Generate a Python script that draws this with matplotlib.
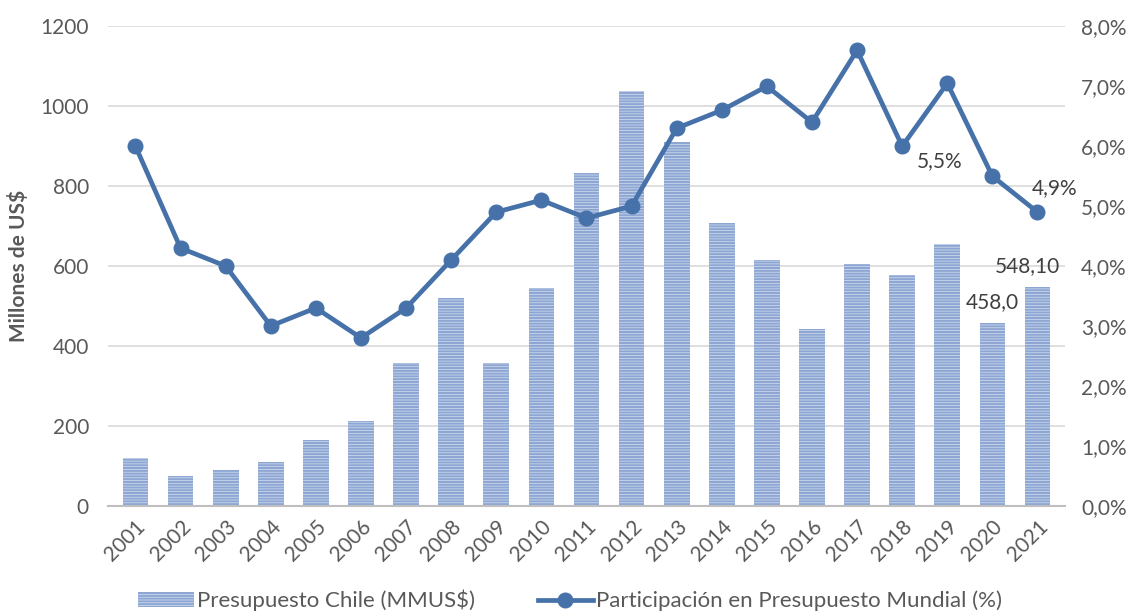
import numpy as np
import matplotlib
matplotlib.use("Agg")
from matplotlib import pyplot as plt
from matplotlib.ticker import FuncFormatter
from matplotlib.patches import Patch
from matplotlib.lines import Line2D

# Data
years = [str(y) for y in range(2001, 2022)]
presupuesto = [120, 75, 90, 110, 165, 213, 358, 521, 358, 546, 832, 1037,
               910, 708, 616, 443, 604, 577, 655, 458.0, 548.1]
participacion = [6.0, 4.3, 4.0, 3.0, 3.3, 2.8, 3.3, 4.1, 4.9, 5.1, 4.8, 5.0,
                 6.3, 6.6, 7.0, 6.4, 7.6, 6.0, 7.05, 5.5, 4.9]

plt.rcParams['font.family'] = ['Lato', 'DejaVu Sans']
plt.rcParams['hatch.linewidth'] = 1.5

gray = '#595959'
blue = '#4672a9'
bar_face = '#d6e0f0'
bar_hatch = '#8ea6d3'

fig = plt.figure(figsize=(11.41, 6.13), dpi=100)
ax = fig.add_axes([0.095, 0.175, 0.838, 0.782])
ax2 = ax.twinx()

x = np.arange(len(years))
ax.bar(x, presupuesto, width=0.57, facecolor=bar_face, hatch='------',
       edgecolor=bar_hatch, linewidth=0, zorder=2)
ax2.plot(x, participacion, color=blue, lw=3.4, marker='o', markersize=10.5,
         zorder=3)

ax.set_ylim(0, 1200)
ax.set_yticks(range(0, 1201, 200))
ax2.set_ylim(0, 8)
ax2.set_yticks(range(0, 9))
ax2.yaxis.set_major_formatter(FuncFormatter(lambda v, p: f"{v:.1f}%".replace('.', ',')))
ax.set_xlim(-0.6, len(years) - 0.4)

ax.grid(axis='y', color='#d9d9d9', lw=1.2, zorder=0)
ax.set_axisbelow(True)
for a in (ax, ax2):
    for s in a.spines.values():
        s.set_visible(False)
ax.spines['bottom'].set_visible(True)
ax.spines['bottom'].set_color('#bfbfbf')
ax.spines['bottom'].set_linewidth(1.5)

ax.set_xticks(x)
ax.set_xticklabels(years, rotation=45, ha='right', rotation_mode='anchor')
ax.tick_params(axis='x', length=0, labelsize=15, labelcolor=gray, pad=8)
ax.tick_params(axis='y', length=0, labelsize=15, labelcolor=gray, pad=14)
ax2.tick_params(axis='y', length=0, labelsize=15, labelcolor=gray, pad=12)
ax.set_ylabel('Millones de US$', fontsize=15, fontweight='bold', color=gray,
              va='center')
ax.yaxis.set_label_coords(-0.094, 0.5)

# labels
lab = '#404040'
ax2.annotate('5,5%', (x[19], participacion[19]), xytext=(-38, 4),
             textcoords='offset points', ha='center', va='bottom',
             fontsize=15, color=lab)
ax2.annotate('4,9%', (x[20], participacion[20]), xytext=(12, 10),
             textcoords='offset points', ha='center', va='bottom',
             fontsize=15, color=lab)
ax.annotate('458,0', (x[19], presupuesto[19]), xytext=(0, 8),
            textcoords='offset points', ha='center', va='bottom',
            fontsize=15, color=lab)
ax.annotate('548,10', (x[20], presupuesto[20]), xytext=(-7, 8),
            textcoords='offset points', ha='center', va='bottom',
            fontsize=15, color=lab)

handles = [Patch(facecolor=bar_face, hatch='------', edgecolor=bar_hatch, linewidth=0),
           Line2D([0], [0], color=blue, lw=3.4, marker='o', markersize=10.5)]
fig.legend(handles, ['Presupuesto Chile (MMUS$)', 'Participación en Presupuesto Mundial (%)'],
           loc='lower center', bbox_to_anchor=(0.5, -0.03), ncol=2, frameon=False,
           fontsize=16, labelcolor=gray, handlelength=2.5, columnspacing=2.8,
           handletextpad=0.15)

fig.savefig('out.png', dpi=100)
